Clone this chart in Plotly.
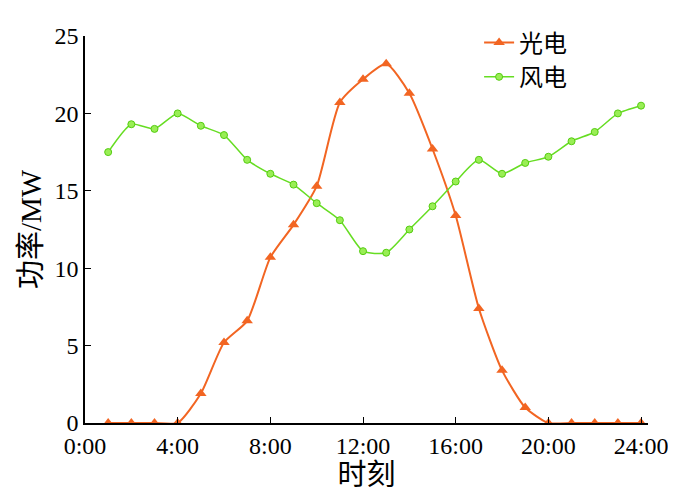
import plotly.graph_objects as go

hours = list(range(1, 25))
solar = [0, 0, 0, 0, 1.9, 5.2, 6.6, 10.7, 12.8, 15.3, 20.7, 22.2, 23.2, 21.3,
         17.7, 13.4, 7.4, 3.4, 1.0, 0, 0, 0, 0, 0]
wind = [17.5, 19.3, 19.0, 20.0, 19.2, 18.6, 17.0, 16.1, 15.4, 14.2, 13.1, 11.1,
        11.0, 12.5, 14.0, 15.6, 17.0, 16.1, 16.8, 17.2, 18.2, 18.8, 20.0, 20.5]
tick_vals = [0, 4, 8, 12, 16, 20, 24]
tick_text = ["0:00", "4:00", "8:00", "12:00", "16:00", "20:00", "24:00"]

font = "Liberation Serif, Noto Sans CJK SC"

fig = go.Figure()
fig.add_trace(go.Scatter(
    x=hours, y=solar, name="光电", mode="lines+markers",
    line=dict(color="#f26522", width=2, shape="spline", smoothing=0.6),
    marker=dict(symbol="triangle-up", size=10, color="#f26522"),
))
fig.add_trace(go.Scatter(
    x=hours, y=wind, name="风电", mode="lines+markers",
    line=dict(color="#66dd22", width=1.5, shape="spline", smoothing=0.6),
    marker=dict(symbol="circle", size=7, color="#99ee55",
                line=dict(color="#55cc11", width=1)),
))
fig.update_layout(
    width=676, height=498,
    paper_bgcolor="white", plot_bgcolor="white",
    font=dict(family=font, size=24, color="black"),
    margin=dict(l=77, r=36, t=15, b=83),
    showlegend=True,
    legend=dict(x=0.7, y=1.04, xanchor="left", yanchor="top",
                bgcolor="rgba(0,0,0,0)", font=dict(size=24),
                tracegroupgap=0),
    xaxis=dict(
        range=[0, 24.3], tickvals=tick_vals, ticktext=tick_text,
        showline=True, linecolor="black", linewidth=1.5, automargin=False,
        ticks="inside", ticklen=6, tickcolor="black", showgrid=False,
        zeroline=False, title=dict(text="时刻", standoff=2),
    ),
    yaxis=dict(
        range=[0, 25], tickvals=[0, 5, 10, 15, 20, 25],
        showline=True, linecolor="black", linewidth=1.5, automargin=False,
        ticks="inside", ticklen=6, tickcolor="black", showgrid=False,
        zeroline=False, title=dict(text="功率/MW", standoff=4),
    ),
)
fig.write_html("out.html")
